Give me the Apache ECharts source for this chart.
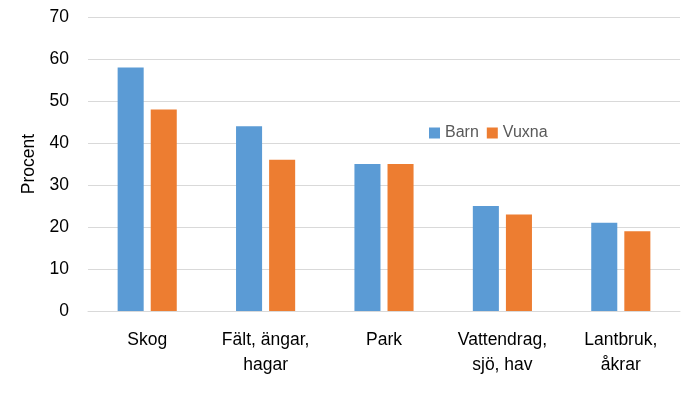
<!DOCTYPE html>
<html><head><meta charset="utf-8">
<script src="https://cdn.jsdelivr.net/npm/echarts@6/dist/echarts.min.js"></script>
<style>html,body{margin:0;padding:0;background:#fff}#c{width:691px;height:393px}</style>
</head><body><div id="c"></div>
<script>
const categories = ["Skog", "Fält, ängar,\nhagar", "Park", "Vattendrag,\nsjö, hav", "Lantbruk,\nåkrar"];
const barn = [58, 44, 35, 25, 21];
const vuxna = [48, 36, 35, 23, 19];
const yTicks = [0, 10, 20, 30, 40, 50, 60, 70];
const font = "Liberation Sans, Arial";
const chart = echarts.init(document.getElementById('c'));
chart.setOption({
  animation: false,
  textStyle: {fontFamily: font},
  legend: {
    left: 424, top: 120, itemWidth: 11, itemHeight: 11, itemGap: 8, icon: 'rect',
    textStyle: {fontFamily: font, fontSize: 16, color: '#595959'},
    data: ['Barn', 'Vuxna']
  },
  grid: {left: 88, right: 11, top: 17, bottom: 82},
  xAxis: {
    type: 'category', data: categories,
    axisLine: {lineStyle: {color: '#d9d9d9'}},
    axisTick: {show: false},
    axisLabel: {fontFamily: font, fontSize: 17.5, color: '#000', margin: 17, lineHeight: 25, interval: 0}
  },
  yAxis: {
    type: 'value', min: yTicks[0], max: yTicks[yTicks.length - 1], interval: 10,
    name: 'Procent', nameLocation: 'middle', nameGap: 43,
    nameTextStyle: {fontFamily: font, fontSize: 17.5, color: '#000'},
    axisLine: {show: false}, axisTick: {show: false},
    axisLabel: {fontFamily: font, fontSize: 17.5, color: '#000', margin: 19},
    splitLine: {lineStyle: {color: '#d9d9d9'}}
  },
  series: [
    {name: 'Barn', type: 'bar', data: barn, barWidth: '22%', barGap: '27%', itemStyle: {color: '#5B9BD5'}},
    {name: 'Vuxna', type: 'bar', data: vuxna, barWidth: '22%', barGap: '27%', itemStyle: {color: '#ED7D31'}}
  ]
});
</script></body></html>
